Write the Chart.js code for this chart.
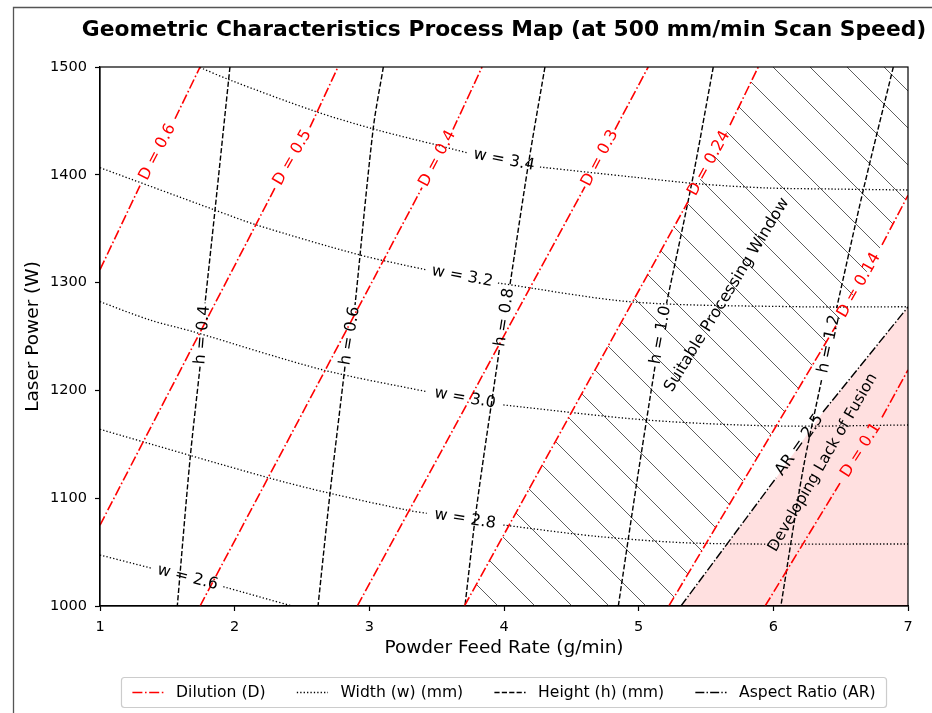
<!DOCTYPE html>
<html>
<head>
<meta charset="utf-8">
<title>Geometric Characteristics Process Map</title>
<script src="https://cdn.jsdelivr.net/npm/chart.js@4.4.1/dist/chart.umd.min.js"></script>
<style>
  html, body { margin: 0; padding: 0; background: #ffffff; }
  #wrap { position: relative; width: 932px; height: 713px; }
</style>
</head>
<body>
<div id="wrap"><canvas id="map"></canvas></div>
<script>
// ---- axis ranges and ticks ----
const feedRange = [1, 7];            // powder feed rate, g/min
const powerRange = [1000, 1500];     // laser power, W
const feedTicks = [1, 2, 3, 4, 5, 6, 7];
const powerTicks = [1000, 1100, 1200, 1300, 1400, 1500];

// ---- dilution contours [feed, power]; null = break where the level label sits ----
const dilution06  = [[1.000, 1312], [1.297, 1390], null, [1.557, 1452], [1.743, 1500]];
const dilution05  = [[1.000, 1075], [2.300, 1388], null, [2.559, 1444], [2.767, 1500]];
const dilution04  = [[1.743, 1000], [3.391, 1388], null, [3.621, 1442], [3.837, 1500]];
const dilution03  = [[2.911, 1000], [4.601, 1389], null, [4.824, 1442], [5.071, 1500]];
const dilution024 = [[3.706, 1000], [5.366, 1375], null, [5.678, 1446], [5.888, 1500]];
const dilution014 = [[5.224, 1000], [6.465, 1260], null, [6.807, 1335], [7.000, 1381]];
const dilution01  = [[5.939, 1000], [6.495, 1114], null, [6.807, 1175], [7.000, 1219]];
const dilutionLevels = ['0.6', '0.5', '0.4', '0.3', '0.24', '0.14', '0.1'];

// ---- bead width contours (mm) ----
const width26 = [[1.000, 1047.3], [1.384, 1035.0], null, [1.916, 1017.9], [2.426, 1000]];
const width28 = [[1.000, 1163.9], [2.238, 1119.4], [2.708, 1104.5], [3.302, 1088.4], [3.426, 1086.0], null,
                 [3.995, 1075.1], [4.713, 1064.3], [5.455, 1058.2], [7.000, 1057.5]];
const width30 = [[1.000, 1282.3], [1.371, 1265.3], [1.691, 1254.5], [2.658, 1218.9], [3.426, 1198.8], null,
                 [3.995, 1186.5], [5.060, 1172.5], [6.025, 1167.0], [7.000, 1167.9]];
const width32 = [[1.000, 1406.6], [1.854, 1367.3], [2.164, 1353.4], [2.931, 1325.6], [3.426, 1311.7], null,
                 [3.955, 1299.6], [4.958, 1282.0], [6.198, 1277.6], [7.000, 1277.6]];
const width34 = [[1.743, 1499.5], [1.965, 1487.9], [2.611, 1458.3], [3.057, 1441.6], [3.502, 1427.6], [3.733, 1420.2], null,
                 [4.267, 1407.2], [4.958, 1397.9], [5.455, 1391.5], [5.953, 1387.8], [6.443, 1386.8], [7.000, 1385.9]];
const widthLevels = ['2.6', '2.8', '3.0', '3.2', '3.4'];

// ---- bead height contours (mm) ----
const height04 = [[1.965, 1500], [1.854, 1367.3], [1.780, 1280.8], null, [1.743, 1222.0], [1.668, 1135.4], [1.574, 1000]];
const height06 = [[3.104, 1500], [3.029, 1443.1], [2.894, 1279.2], null, [2.819, 1222.0], [2.708, 1104.5], [2.619, 1000]];
const height08 = [[4.304, 1500], [4.180, 1409.1], [4.044, 1297.8], null, [3.965, 1237.5], [3.797, 1092.1], [3.710, 1000]];
const height10 = [[5.554, 1500], [5.394, 1392.1], [5.207, 1280.8], null, [5.121, 1222.0], [4.985, 1113.8], [4.849, 1000]];
const height12 = [[6.891, 1500], [6.668, 1385.9], [6.470, 1276.4], null, [6.358, 1209.6], [6.220, 1126.2], [6.056, 1000]];
const heightLevels = ['0.4', '0.6', '0.8', '1.0', '1.2'];

// ---- aspect ratio boundary ----
const aspect25 = [[5.314, 1000], [6.020, 1118.7], null, [6.369, 1180.0], [7.000, 1277.4]];
const aspectLevel = '2.5';

// ---- line styles ----
const FONT = '"DejaVu Sans", "Liberation Sans", sans-serif';
const dilutionStyle = { color: '#ff0000', width: 1.6, dash: [10, 2.6, 1.6, 2.6], tension: 0 };
const widthStyle    = { color: '#000000', width: 1.3, dash: [1.3, 2.1], tension: 0.3 };
const heightStyle   = { color: '#000000', width: 1.4, dash: [5.2, 2.2], tension: 0.3 };
const ratioStyle    = { color: '#000000', width: 1.4, dash: [9, 2.2, 1.4, 2.2], tension: 0 };

const toPoints = arr => arr.map(p => p ? { x: p[0], y: p[1] } : { x: null, y: null });
const solid = arr => arr.filter(Boolean);

function contour(arr, label, style) {
  return {
    data: toPoints(arr),
    inlineLabel: label,
    labelColor: style.color,
    showLine: true,
    borderColor: style.color,
    borderWidth: style.width,
    borderDash: style.dash,
    backgroundColor: style.color,
    pointRadius: 0,
    pointHoverRadius: 0,
    tension: style.tension,
    spanGaps: false,
    fill: false,
    order: 1
  };
}

// diagonal hatch used for the processing window
function hatchPattern() {
  const s = 37;
  const tile = document.createElement('canvas');
  tile.width = s; tile.height = s;
  const g = tile.getContext('2d');
  g.strokeStyle = 'rgba(40,40,40,0.75)';
  g.lineWidth = 1;
  for (let k = -1; k <= 1; k++) {
    const off = 34 + k * s;
    g.beginPath();
    g.moveTo(-3, -3 + off);
    g.lineTo(s + 3, s + 3 + off);
    g.stroke();
  }
  return g.createPattern(tile, 'repeat');
}

// processing window: between D = 0.24 and D = 0.14, closed along the top/right edges
const windowShape = [...solid(dilution024), [feedRange[1], powerRange[1]], ...solid(dilution014).reverse()];
// lack-of-fusion zone: below the AR = 2.5 boundary
const fusionShape = [...solid(aspect25), [feedRange[1], powerRange[0]]];

function region(arr, bg) {
  return {
    data: toPoints(arr),
    showLine: true,
    borderColor: 'transparent',
    borderWidth: 0,
    backgroundColor: bg,
    pointRadius: 0,
    pointHoverRadius: 0,
    tension: 0,
    fill: 'shape',
    order: 5
  };
}

const datasets = [
  region(windowShape, hatchPattern()),
  region(fusionShape, 'rgba(255, 0, 0, 0.12)'),
  ...[dilution06, dilution05, dilution04, dilution03, dilution024, dilution014, dilution01]
    .map((d, i) => contour(d, 'D = ' + dilutionLevels[i], dilutionStyle)),
  ...[width26, width28, width30, width32, width34]
    .map((d, i) => contour(d, 'w = ' + widthLevels[i], widthStyle)),
  ...[height04, height06, height08, height10, height12]
    .map((d, i) => contour(d, 'h = ' + heightLevels[i], heightStyle)),
  contour(aspect25, 'AR = ' + aspectLevel, ratioStyle)
];

// free text placed inside the regions (data coordinates, rotation in degrees)
const regionNotes = [
  { text: 'Suitable Processing Window', at: [5.656, 1288.5], rot: -58.5, size: 16 },
  { text: 'Developing Lack of Fusion', at: [6.369, 1133.0], rot: -60, size: 15.5 }
];

const legendItems = [
  { label: 'Dilution (D)', style: dilutionStyle },
  { label: 'Width (w) (mm)', style: widthStyle },
  { label: 'Height (h) (mm)', style: heightStyle },
  { label: 'Aspect Ratio (AR)', style: ratioStyle }
];

const chartTitle = 'Geometric Characteristics Process Map (at 500 mm/min Scan Speed)';

const decor = {
  id: 'decor',
  afterDatasetsDraw(chart) {
    const { ctx, chartArea: a, scales: { x, y } } = chart;
    // inline contour labels, centred in each line break and aligned with it
    ctx.save();
    ctx.beginPath();
    ctx.rect(a.left, a.top, a.right - a.left, a.bottom - a.top);
    ctx.clip();
    chart.data.datasets.forEach(ds => {
      if (!ds.inlineLabel) return;
      const k = ds.data.findIndex(p => p.y === null);
      if (k < 1) return;
      const p0 = ds.data[k - 1], p1 = ds.data[k + 1];
      const x0 = x.getPixelForValue(p0.x), y0 = y.getPixelForValue(p0.y);
      const x1 = x.getPixelForValue(p1.x), y1 = y.getPixelForValue(p1.y);
      let ang = Math.atan2(y1 - y0, x1 - x0);
      if (ang > Math.PI / 2) ang -= Math.PI;
      if (ang < -Math.PI / 2) ang += Math.PI;
      ctx.save();
      ctx.translate((x0 + x1) / 2, (y0 + y1) / 2);
      ctx.rotate(ang);
      ctx.font = '16px ' + FONT;
      ctx.fillStyle = ds.labelColor;
      ctx.textAlign = 'center';
      ctx.textBaseline = 'middle';
      ctx.fillText(ds.inlineLabel, 0, 0);
      ctx.restore();
    });
    regionNotes.forEach(n => {
      ctx.save();
      ctx.translate(x.getPixelForValue(n.at[0]), y.getPixelForValue(n.at[1]));
      ctx.rotate(n.rot * Math.PI / 180);
      ctx.font = n.size + 'px ' + FONT;
      ctx.fillStyle = '#000';
      ctx.textAlign = 'center';
      ctx.textBaseline = 'middle';
      ctx.fillText(n.text, 0, 0);
      ctx.restore();
    });
    ctx.restore();
    // axes frame
    ctx.save();
    ctx.strokeStyle = '#000';
    ctx.lineWidth = 1.2;
    ctx.strokeRect(a.left, a.top, a.right - a.left, a.bottom - a.top);
    ctx.restore();
  },
  afterDraw(chart) {
    const { ctx, chartArea: a } = chart;
    const cx = (a.left + a.right) / 2;
    ctx.save();
    // figure border
    ctx.strokeStyle = '#555';
    ctx.lineWidth = 1.3;
    ctx.beginPath();
    ctx.moveTo(13.5, chart.height + 2);
    ctx.lineTo(13.5, 7.5);
    ctx.lineTo(chart.width + 2, 7.5);
    ctx.stroke();
    // title
    ctx.font = 'bold 21.8px ' + FONT;
    ctx.fillStyle = '#000';
    ctx.textAlign = 'center';
    ctx.textBaseline = 'alphabetic';
    ctx.fillText(chartTitle, cx, 36);
    // legend
    const fs = 15.6;
    ctx.font = fs + 'px ' + FONT;
    const handle = 2 * fs, pad = 0.8 * fs, gapCol = 2 * fs, border = 0.7 * fs;
    const widths = legendItems.map(it => ctx.measureText(it.label).width);
    const total = widths.reduce((s, w) => s + w + handle + pad, 0) + gapCol * (legendItems.length - 1) + 2 * border;
    const left = cx - total / 2, top = 677.5, h = 30;
    ctx.fillStyle = 'rgba(255,255,255,0.8)';
    ctx.strokeStyle = '#cccccc';
    ctx.lineWidth = 1.2;
    ctx.beginPath();
    ctx.roundRect(left, top, total, h, 3);
    ctx.fill();
    ctx.stroke();
    let px = left + border;
    const my = top + h / 2;
    legendItems.forEach((it, i) => {
      ctx.save();
      ctx.strokeStyle = it.style.color;
      ctx.lineWidth = it.style.width;
      ctx.setLineDash(it.style.dash);
      ctx.beginPath();
      ctx.moveTo(px, my);
      ctx.lineTo(px + handle, my);
      ctx.stroke();
      ctx.restore();
      px += handle + pad;
      ctx.fillStyle = '#000';
      ctx.textAlign = 'left';
      ctx.textBaseline = 'middle';
      ctx.fillText(it.label, px, my);
      px += widths[i] + gapCol;
    });
    ctx.restore();
  }
};

new Chart(document.getElementById('map'), {
  type: 'scatter',
  data: { datasets },
  options: {
    responsive: true,
    maintainAspectRatio: false,
    animation: false,
    events: [],
    layout: { padding: { top: 67, right: 24, bottom: 0, left: 0 } },
    plugins: {
      legend: { display: false },
      title: { display: false },
      tooltip: { enabled: false },
      filler: { propagate: false }
    },
    scales: {
      x: {
        type: 'linear',
        min: feedRange[0],
        max: feedRange[1],
        afterBuildTicks: s => { s.ticks = feedTicks.map(v => ({ value: v })); },
        afterFit: s => { s.height = 107; },
        ticks: { color: '#000', font: { family: FONT, size: 14.5 }, padding: 8, maxRotation: 0, autoSkip: false,
                 callback: v => String(v) },
        grid: { drawOnChartArea: false, drawTicks: true, tickLength: 5, tickColor: '#000', tickWidth: 1.2 },
        border: { display: true, color: '#000', width: 1.2 },
        title: { display: true, text: 'Powder Feed Rate (g/min)', color: '#000',
                 font: { family: FONT, size: 18.5 }, padding: { top: 0, bottom: 54 } }
      },
      y: {
        type: 'linear',
        min: powerRange[0],
        max: powerRange[1],
        afterBuildTicks: s => { s.ticks = powerTicks.map(v => ({ value: v })); },
        afterFit: s => { s.width = 100; },
        ticks: { color: '#000', font: { family: FONT, size: 14.5 }, padding: 8, autoSkip: false,
                 callback: v => String(v) },
        grid: { drawOnChartArea: false, drawTicks: true, tickLength: 5, tickColor: '#000', tickWidth: 1.2 },
        border: { display: true, color: '#000', width: 1.2 },
        title: { display: true, text: 'Laser Power (W)', color: '#000',
                 font: { family: FONT, size: 18.5 }, padding: { top: 22, bottom: 0 } }
      }
    }
  },
  plugins: [decor]
});
</script>
</body>
</html>
